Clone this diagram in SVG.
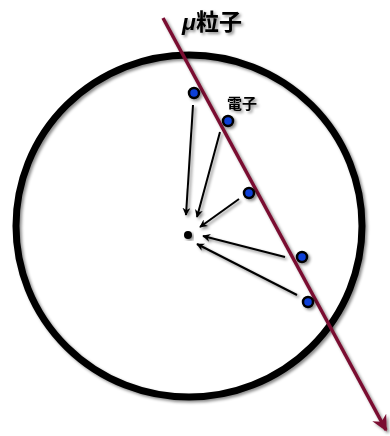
<svg xmlns="http://www.w3.org/2000/svg" width="390" height="436" viewBox="0 0 390 436">
<style>
.ring{fill:none;stroke:#000;stroke-width:7}
.arr{stroke:#000;stroke-width:2;fill:none;marker-end:url(#ah)}
.e{fill:#0b3fd8;stroke:#000;stroke-width:2.5}
.t{font-family:"Liberation Sans","Noto Sans CJK JP",sans-serif;font-weight:bold;fill:#000}
</style>
<defs>
<filter id="sh" x="-20%" y="-20%" width="140%" height="140%">
<feDropShadow dx="2" dy="2" stdDeviation="1.5" flood-color="#000" flood-opacity="0.45"/>
</filter>
<marker id="ah" viewBox="0 0 10 10" refX="9" refY="5" markerWidth="8" markerHeight="8" orient="auto" markerUnits="userSpaceOnUse">
<path d="M0,0 L10,5 L0,10 L3,5 Z" fill="#000"/>
</marker>
<marker id="mh" viewBox="0 0 10 10" refX="9" refY="5" markerWidth="4.5" markerHeight="4.5" orient="auto">
<path d="M0,0 L10,5 L0,10 L3,5 Z" fill="#7a1030"/>
</marker>
</defs>
<g id="atom" filter="url(#sh)">
<ellipse class="ring" cx="189" cy="226" rx="173" ry="171"/>
</g>
<g id="nucleus" filter="url(#sh)">
<circle cx="188" cy="235" r="4" fill="#000"/>
</g>
<g id="connectors" filter="url(#sh)">
<line class="arr" x1="193" y1="105" x2="186" y2="215"/>
<line class="arr" x1="220" y1="132" x2="197" y2="217"/>
<line class="arr" x1="239" y1="199" x2="200" y2="227"/>
<line class="arr" x1="285" y1="257" x2="203" y2="236"/>
<line class="arr" x1="297" y1="295" x2="197" y2="244"/>
</g>
<g id="muon" filter="url(#sh)">
<line x1="163" y1="18" x2="386" y2="430" stroke="#7a1030" stroke-width="3.5" marker-end="url(#mh)"/>
<text class="t" x="182" y="30" font-size="23"><tspan font-style="italic">μ</tspan>粒子</text>
</g>
<g id="electrons" filter="url(#sh)">
<circle class="e" cx="194" cy="93" r="5"/>
<circle class="e" cx="228" cy="121" r="5"/>
<circle class="e" cx="249" cy="193" r="5"/>
<circle class="e" cx="302" cy="257" r="5"/>
<circle class="e" cx="308" cy="302" r="5"/>
<text class="t" x="227" y="109" font-size="15">電子</text>
</g>
</svg>
